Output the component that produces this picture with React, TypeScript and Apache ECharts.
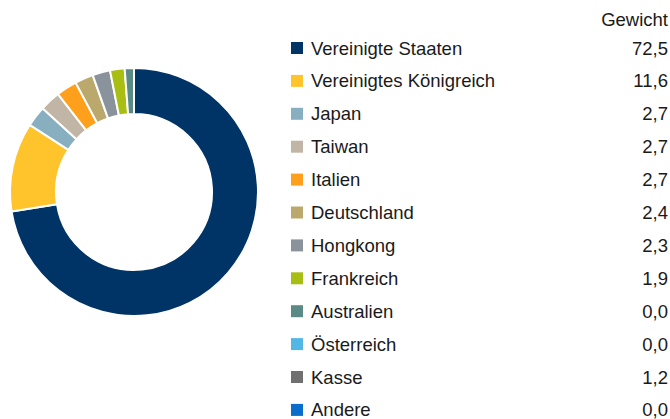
import React, { useEffect, useRef } from "react";
import * as echarts from "echarts";

const countries = [
  "Vereinigte Staaten",
  "Vereinigtes Königreich",
  "Japan",
  "Taiwan",
  "Italien",
  "Deutschland",
  "Hongkong",
  "Frankreich",
  "Australien",
  "Österreich",
  "Kasse",
  "Andere",
];
const weights = [72.5, 11.6, 2.7, 2.7, 2.7, 2.4, 2.3, 1.9, 0.0, 0.0, 1.2, 0.0];
const legendColors = [
  "#003366",
  "#ffc32b",
  "#88afc0",
  "#c1b5a5",
  "#ffa01c",
  "#bba86d",
  "#8a939b",
  "#a9be12",
  "#5a8a86",
  "#53b7e5",
  "#707070",
  "#0a6ccb",
];
const headerLabel = "Gewicht";

export default function App() {
  const ref = useRef<HTMLDivElement>(null);
  useEffect(() => {
    if (!ref.current) return;
    const chart = echarts.init(ref.current, null, { renderer: "svg" });
    const font = "'Liberation Sans', Arial, sans-serif";
    const fs = 18.5;
    const rowY0 = 48;
    const rowStep = 32.9;

    // pie slices: non-zero entries, colored sequentially by palette
    const pieData = countries
      .map((n, i) => ({ name: n, value: weights[i] }))
      .filter((d) => d.value > 0)
      .map((d, i) => ({ ...d, itemStyle: { color: legendColors[i] } }));

    const graphics: any[] = [
      {
        type: "text",
        x: 668,
        y: 19,
        style: {
          text: headerLabel,
          font: `${fs}px ${font}`,
          fill: "#1a1a1a",
          textAlign: "right",
          textVerticalAlign: "middle",
        },
      },
    ];
    countries.forEach((n, i) => {
      const y = rowY0 + i * rowStep;
      graphics.push({
        type: "rect",
        shape: { x: 291, y: y - 6, width: 12, height: 12 },
        style: { fill: legendColors[i] },
      });
      graphics.push({
        type: "text",
        x: 311,
        y: y,
        style: {
          text: n,
          font: `${fs}px ${font}`,
          fill: "#1a1a1a",
          textVerticalAlign: "middle",
        },
      });
      graphics.push({
        type: "text",
        x: 668,
        y: y,
        style: {
          text: weights[i].toFixed(1).replace(".", ","),
          font: `${fs}px ${font}`,
          fill: "#1a1a1a",
          textAlign: "right",
          textVerticalAlign: "middle",
        },
      });
    });

    chart.setOption({
      animation: false,
      backgroundColor: "#ffffff",
      graphic: graphics,
      series: [
        {
          type: "pie",
          center: [134, 192],
          radius: [78, 124],
          startAngle: 90,
          clockwise: true,
          label: { show: false },
          labelLine: { show: false },
          itemStyle: { borderColor: "#ffffff", borderWidth: 2 },
          data: pieData,
        },
      ],
    });
    return () => chart.dispose();
  }, []);
  return (
    <div
      ref={ref}
      style={{ width: 670, height: 419, position: "absolute", left: 0, top: 0 }}
    />
  );
}
